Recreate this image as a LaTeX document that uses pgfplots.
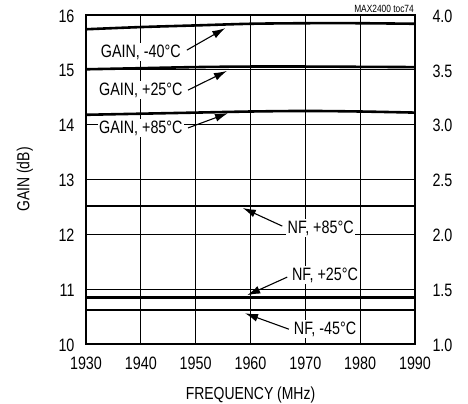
\documentclass[border=0pt]{standalone}
\usepackage{pgfplots}
\pgfplotsset{compat=1.18}
\usetikzlibrary{arrows.meta}
\usepackage{fontspec}
\setmainfont{Liberation Sans}[FakeStretch=0.8]
\begin{document}
\begin{tikzpicture}
\useasboundingbox (-86bp,-60bp) rectangle (382bp,344bp);
\begin{axis}[
  scale only axis, width=329bp, height=329bp,
  at={(0,0)}, anchor=south west,
  xmin=1930, xmax=1990, ymin=10, ymax=16,
  xtick={1930,1940,...,1990}, ytick={10,11,...,16},
  grid=major, major grid style={black, line width=0.75pt},
  major tick length=0pt,
  axis line style={line width=2.4pt},
  tick label style={font=\fontsize{18}{20}\selectfont},
  /pgf/number format/assume math mode=true,
  xticklabel style={/pgf/number format/1000 sep={}, yshift=-9bp},
  yticklabel style={xshift=-8bp, yshift=-1bp},
  xlabel={FREQUENCY (MHz)}, ylabel={GAIN (dB)},
  label style={font=\fontsize{17.5}{20}\selectfont},
  xlabel style={at={(axis description cs:0.5,-0.155)}, anchor=center},
  ylabel style={at={(axis description cs:-0.186,0.5)}, anchor=center},
  clip=false,
]
\addplot[black, line width=2.6pt, smooth] coordinates {(1930,15.74) (1940,15.78) (1950,15.81) (1960,15.84) (1970,15.85) (1980,15.85) (1990,15.84)};
\addplot[black, line width=2.6pt, smooth] coordinates {(1930,15.01) (1940,15.03) (1950,15.05) (1960,15.06) (1970,15.06) (1980,15.055) (1990,15.05)};
\addplot[black, line width=2.6pt, smooth] coordinates {(1930,14.18) (1940,14.20) (1950,14.22) (1960,14.24) (1970,14.25) (1980,14.24) (1990,14.22)};
\tikzset{lab/.style={fill=white, inner sep=1.5pt, font=\fontsize{18}{20}\selectfont},
         arr/.style={-{Latex[length=13bp,width=8bp]}, line width=1.1pt, shorten >=0pt}}
\node[lab] at (axis cs:1940,15.32) {GAIN, -40°C};
\draw[arr] (axis cs:1948.4,15.36) -- (axis cs:1955.4,15.76);
\node[lab] at (axis cs:1940,14.63) {GAIN, +25°C};
\draw[arr] (axis cs:1948.6,14.63) -- (axis cs:1955.7,14.98);
\node[lab] at (axis cs:1940,13.94) {GAIN, +85°C};
\draw[arr] (axis cs:1948.6,13.94) -- (axis cs:1955.9,14.21);
\node[lab] at (axis cs:1972.8,12.11) {NF, +85°C};
\draw[arr] (axis cs:1965.8,12.15) -- (axis cs:1958.6,12.48);
\node[lab] at (axis cs:1973.6,11.26) {NF, +25°C};
\draw[arr] (axis cs:1966.7,11.22) -- (axis cs:1959.4,10.89);
\node[lab] at (axis cs:1973.6,10.27) {NF, -45°C};
\draw[arr] (axis cs:1967.0,10.27) -- (axis cs:1959.0,10.56);
\node[anchor=south east, font=\fontsize{10.5}{12}\selectfont, inner sep=1pt] at (axis cs:1990,16) [yshift=1.5bp] {MAX2400 toc74};
\end{axis}
\begin{axis}[
  scale only axis, width=329bp, height=329bp,
  at={(0,0)}, anchor=south west,
  xmin=1930, xmax=1990, ymin=1, ymax=4,
  axis y line*=right, axis x line=none,
  ytick={1,1.5,...,4},
  major tick length=0pt,
  axis line style={line width=2.4pt},
  tick label style={font=\fontsize{18}{20}\selectfont},
  /pgf/number format/assume math mode=true,
  yticklabel style={/pgf/number format/fixed, /pgf/number format/fixed zerofill, /pgf/number format/precision=1, xshift=14bp, yshift=-1bp},
  clip=false,
]
\addplot[black, line width=2.6pt] coordinates {(1930,2.26) (1990,2.26)};
\addplot[black, line width=2.6pt] coordinates {(1930,1.425) (1990,1.425)};
\addplot[black, line width=2.6pt] coordinates {(1930,1.31) (1990,1.31)};
\end{axis}
\end{tikzpicture}
\end{document}
